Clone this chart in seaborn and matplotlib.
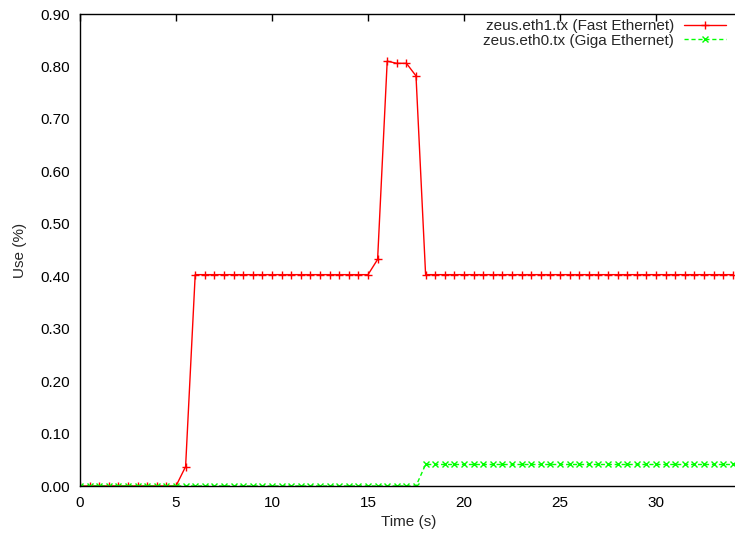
import numpy as np
import pandas as pd
import matplotlib
matplotlib.use("Agg")
import matplotlib.pyplot as plt
import seaborn as sns

times = [i * 0.5 for i in range(69)]  # 0.0 .. 34.0 s, sampling every 0.5 s

fast_eth = ([0.0] * 11 + [0.037] + [0.403] * 19 + [0.432, 0.810, 0.806, 0.806, 0.782]
            + [0.403] * 33)
giga_eth = [0.0] * 36 + [0.041] * 33

labels = ["zeus.eth1.tx (Fast Ethernet)", "zeus.eth0.tx (Giga Ethernet)"]
x_ticks = [0, 5, 10, 15, 20, 25, 30]
y_ticks = [0.0, 0.1, 0.2, 0.3, 0.4, 0.5, 0.6, 0.7, 0.8, 0.9]

sns.set_style("white")
plt.rcParams["font.family"] = ["Liberation Sans", "DejaVu Sans"]

fig = plt.figure(figsize=(7.35, 5.33), dpi=100)
# the plot frame runs past the right edge of the image, as in the original
ax = fig.add_axes([80 / 735, (533 - 486) / 533, (752 - 80) / 735, (486 - 14) / 533])

sns.lineplot(x=times, y=fast_eth, color="#ff0000", marker="+",
             markersize=6, markeredgewidth=1.0, markeredgecolor="#ff0000",
             linewidth=1.0, linestyle="-", label=labels[0], ax=ax)
sns.lineplot(x=times, y=giga_eth, color="#00ff00", marker="x",
             markersize=5, markeredgewidth=1.0, markeredgecolor="#00ff00",
             linewidth=1.0, linestyle=(0, (3, 2)), label=labels[1], ax=ax)

ax.set_xlim(0, 35)
ax.set_ylim(0, 0.9)
ax.set_xticks(x_ticks)
ax.set_yticks(y_ticks)
ax.set_yticklabels([f"{v:.2f}" for v in y_ticks])
ax.tick_params(direction="in", length=5, width=1, top=True, right=True,
               labelsize=11, colors="black", pad=7)
for sp in ax.spines.values():
    sp.set_color("black")
    sp.set_linewidth(1)
ax.set_xlabel("Time (s)", fontsize=11, labelpad=4)
ax.xaxis.set_label_coords((409 - 80) / 672, -0.062)
ax.set_ylabel("Use (%)", fontsize=11, labelpad=10)

h, l = ax.get_legend_handles_labels()
ax.legend(h, l, loc="upper right", frameon=False, markerfirst=False,
          bbox_to_anchor=((729 - 80) / 672, 1 - 2 / 472),
          fontsize=11, handlelength=2.75, handletextpad=0.65,
          labelspacing=0.05, borderaxespad=0.0, borderpad=0.2, numpoints=1)

fig.savefig("out.png", dpi=100)
